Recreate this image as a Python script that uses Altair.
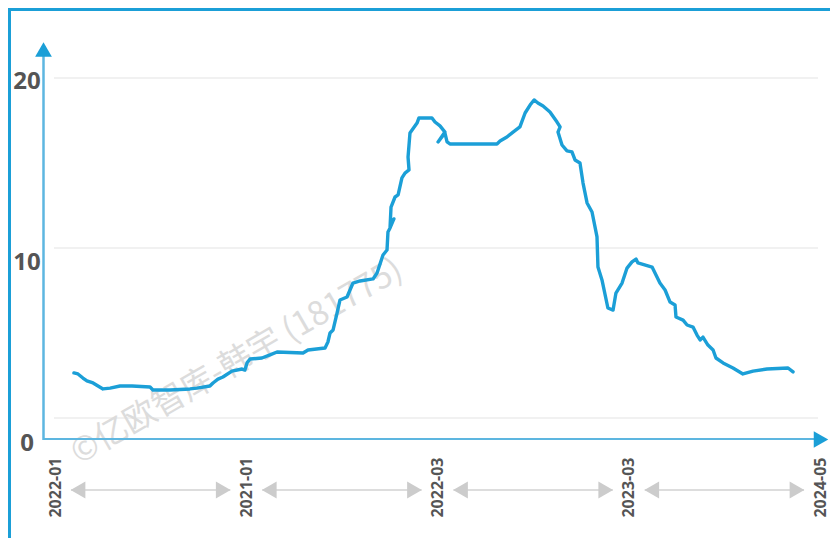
import altair as alt
import pandas as pd

# ---- data ----
# x: position in label intervals (0..4 = the five axis labels); y: value
t = [0.099, 0.120, 0.146, 0.167, 0.199, 0.251, 0.288, 0.340, 0.403, 0.497,
     0.512, 0.601, 0.706, 0.742, 0.810, 0.826, 0.852, 0.878, 0.925, 0.978,
     0.993, 1.004, 1.020, 1.082, 1.124, 1.161, 1.297, 1.323, 1.412, 1.427,
     1.438, 1.454, 1.475, 1.490, 1.527, 1.558, 1.595, 1.663, 1.684, 1.715,
     1.736, 1.741, 1.752, 1.772, 1.752, 1.757, 1.778, 1.794, 1.814, 1.830,
     1.851, 1.846, 1.856, 1.893, 1.903, 1.971, 1.987, 2.013, 2.039, 2.003,
     2.039, 2.050, 2.065, 2.311, 2.327, 2.363, 2.395, 2.431, 2.458, 2.484,
     2.505, 2.525, 2.552, 2.588, 2.625, 2.641, 2.630, 2.651, 2.677, 2.703,
     2.719, 2.745, 2.761, 2.782, 2.808, 2.834, 2.839, 2.860, 2.891, 2.918,
     2.933, 2.965, 2.991, 3.017, 3.038, 3.048, 3.122, 3.163, 3.190, 3.216,
     3.242, 3.247, 3.284, 3.305, 3.336, 3.357, 3.373, 3.388, 3.414, 3.441,
     3.456, 3.493, 3.545, 3.597, 3.650, 3.723, 3.833, 3.859]
v = [2.65, 2.59, 2.35, 2.18, 2.06, 1.71, 1.76, 1.88, 1.88, 1.82,
     1.65, 1.65, 1.71, 1.76, 1.88, 2.06, 2.29, 2.41, 2.76, 2.88,
     2.82, 3.24, 3.47, 3.53, 3.71, 3.88, 3.82, 4.00, 4.12, 4.47,
     5.00, 5.18, 6.18, 6.94, 7.12, 7.94, 8.06, 8.18, 8.53, 9.59,
     9.88, 10.94, 11.18, 11.71, 11.24, 12.41, 13.00, 13.12, 14.12, 14.41,
     14.59, 15.35, 16.76, 17.35, 17.65, 17.65, 17.41, 17.18, 16.82, 16.24,
     16.76, 16.24, 16.12, 16.12, 16.29, 16.53, 16.82, 17.12, 17.94, 18.41,
     18.71, 18.53, 18.35, 18.00, 17.41, 17.12, 16.82, 16.06, 15.71, 15.65,
     15.18, 15.00, 13.82, 12.65, 12.12, 10.65, 8.88, 8.12, 6.47, 6.35,
     7.35, 7.94, 8.82, 9.18, 9.35, 9.12, 8.88, 7.94, 7.53, 6.82,
     6.65, 5.94, 5.76, 5.47, 5.35, 4.88, 4.59, 4.76, 4.29, 4.00,
     3.53, 3.24, 2.94, 2.59, 2.76, 2.88, 2.94, 2.71]
x_labels = ["2022-01", "2021-01", "2022-03", "2023-03", "2024-05"]
x_ticks = [0, 1, 2, 3, 4]
y_ticks = [0, 10, 20]
watermark = "©亿欧智库-韩宇 (181775)"

line_df = pd.DataFrame({"i": list(range(len(t))), "t": t, "v": v})
grid_df = pd.DataFrame({"v": y_ticks})
seg_df = pd.DataFrame({"a": x_ticks[:-1], "b": x_ticks[1:]})
one = pd.DataFrame({"k": [0]})
wm_df = pd.DataFrame({"s": [watermark]})

W, H = 785, 389
BLUE = "#1b9fd7"
AXBLUE = "#5db6e0"
XS = alt.Scale(domain=[0, 4], range=[12, 777])
YS = alt.Scale(domain=[0, 20], range=[368, 28])
YL = alt.Scale(domain=[0, 20], range=[393, 31])

label_expr = "[" + ",".join("'%s'" % s for s in x_labels) + "][datum.value]"
XA = alt.Axis(values=x_ticks, labelExpr=label_expr, labelAngle=270, domain=False,
              grid=False, ticks=False, tickSize=0, labelPadding=18, labelFontSize=16,
              labelFont="Noto Sans", labelFontWeight="bold", labelColor="#555555",
              title=None)

frame_v = alt.Chart(one).mark_rule(color=BLUE, strokeWidth=3).encode(
    x=alt.value(-33.5), y=alt.value(-42), y2=alt.value(488))
frame_h = alt.Chart(one).mark_rule(color=BLUE, strokeWidth=3).encode(
    y=alt.value(-40.5), x=alt.value(-35), x2=alt.value(787))

grid = alt.Chart(grid_df).mark_rule(color="#ececec", strokeWidth=1.5).encode(
    y=alt.Y("v:Q", scale=YS, axis=None), x=alt.value(11), x2=alt.value(775))

ylabels = alt.Chart(grid_df).mark_point(opacity=0).encode(
    y=alt.Y("v:Q", scale=YL,
            axis=alt.Axis(orient="left", values=y_ticks, grid=False, domain=False,
                          ticks=False, tickSize=0, labelPadding=16.5, labelAlign="center",
                          labelFontSize=24, labelFont="Noto Sans", labelFontWeight="bold",
                          labelColor="#555555", title=None)))

wm = alt.Chart(wm_df).mark_text(angle=330, fontSize=33, font="Noto Sans CJK SC",
                                color="#dcdcdc").encode(
    text="s:N", x=alt.value(194), y=alt.value(312))

xline = alt.Chart(one).mark_rule(color=AXBLUE, strokeWidth=2).encode(
    x=alt.value(0), x2=alt.value(778), y=alt.value(389))
yline = alt.Chart(one).mark_rule(color=AXBLUE, strokeWidth=2.5).encode(
    x=alt.value(0.5), y=alt.value(4), y2=alt.value(390))
yhead = alt.Chart(one).mark_point(shape="triangle-up", filled=True, size=280,
                                  color=BLUE, opacity=1).encode(
    x=alt.value(0.5), y=alt.value(-0.5))
xhead = alt.Chart(one).mark_point(shape="triangle-right", filled=True, size=280,
                                  color=BLUE, opacity=1).encode(
    x=alt.value(778), y=alt.value(389.5))

seg = alt.Chart(seg_df).mark_rule(color="#d2d2d2", strokeWidth=1.5,
                                  xOffset=16, x2Offset=-16).encode(
    x=alt.X("a:Q", scale=XS, axis=XA), x2="b:Q", y=alt.value(440))
seg_l = alt.Chart(seg_df).mark_point(shape="triangle-left", filled=True, size=290,
                                     color="#cccccc", opacity=1, xOffset=23).encode(
    x=alt.X("a:Q", scale=XS, axis=XA), y=alt.value(440))
seg_r = alt.Chart(seg_df).mark_point(shape="triangle-right", filled=True, size=290,
                                     color="#cccccc", opacity=1, xOffset=-23).encode(
    x=alt.X("b:Q", scale=XS, axis=XA), y=alt.value(440))

line = alt.Chart(line_df).mark_line(color=BLUE, strokeWidth=3.4, strokeJoin="round",
                                    strokeCap="round").encode(
    x=alt.X("t:Q", scale=XS, axis=XA),
    y=alt.Y("v:Q", scale=YS, axis=None),
    order="i:Q")

chart = alt.layer(
    frame_v, frame_h, grid, ylabels, wm, xline, yline, yhead, xhead,
    seg, seg_l, seg_r, line
).resolve_scale(y="independent").properties(
    width=W, height=H,
    padding={"left": 35, "top": 42, "right": 2, "bottom": 99},
    autosize="none",
).configure_view(stroke=None)

chart.save("out.html", embed_options={"renderer": "svg", "actions": False})
